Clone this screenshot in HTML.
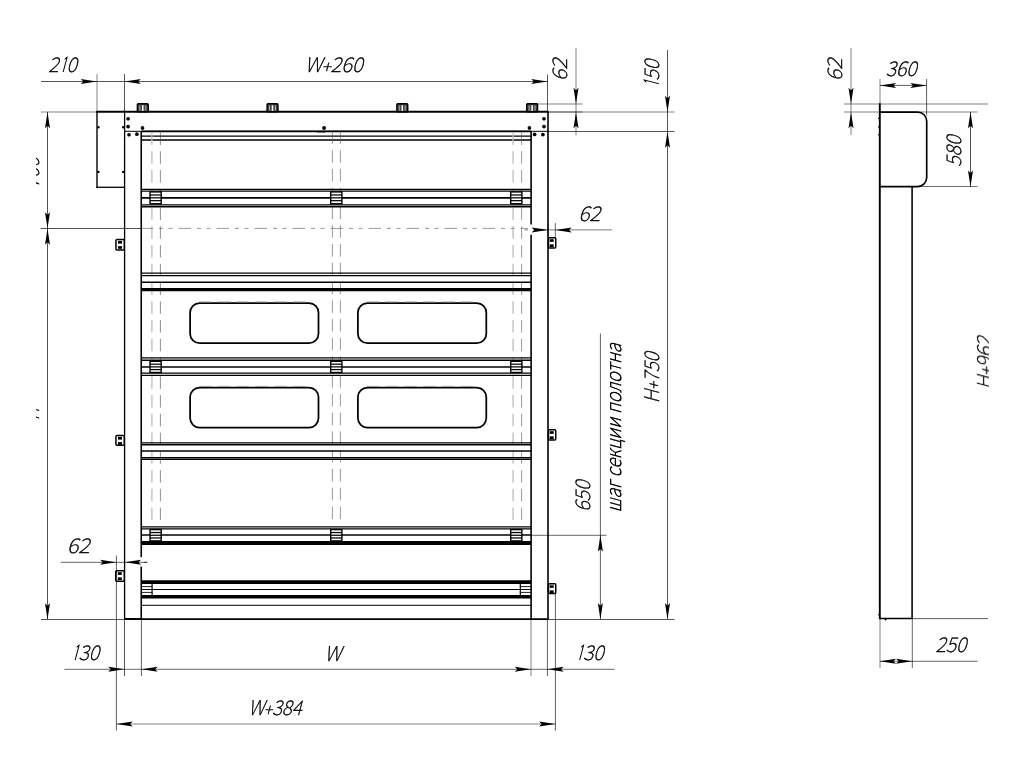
<!DOCTYPE html>
<html lang="ru"><head><meta charset="utf-8"><title>Чертёж секционных ворот</title>
<style>
html,body{margin:0;padding:0;background:#fff;}
body{width:1024px;height:768px;overflow:hidden;}
svg{display:block;}
svg text{font-family:"Noto Sans CJK SC","DejaVu Sans Light","Liberation Sans",sans-serif;font-weight:100;fill:#000;stroke:#000;}svg text .o{font-family:"IPAGothic","Noto Sans CJK JP",sans-serif;font-weight:400;stroke-width:0;font-size:22.1px;}
</style></head>
<body>
<svg width="1024" height="768" viewBox="0 0 1024 768">
<defs>
<clipPath id="cl1"><rect x="36" y="100" width="12" height="400"/></clipPath>
<clipPath id="cl2"><rect x="960" y="300" width="29" height="120"/></clipPath>
</defs>
<rect width="1024" height="768" fill="#fff"/>
<g id="drawing" opacity="0.999">
<line x1="96.3" y1="111.80000000000001" x2="548.7" y2="111.80000000000001" stroke="#000" stroke-width="2.0"/>
<line x1="97.0" y1="111.9" x2="97.0" y2="187.9" stroke="#000" stroke-width="1.4"/>
<line x1="96.3" y1="187.3" x2="124.6" y2="187.3" stroke="#000" stroke-width="1.3"/>
<line x1="124.6" y1="111.9" x2="124.6" y2="619.2" stroke="#000" stroke-width="1.3"/>
<line x1="548.0" y1="111.9" x2="548.0" y2="619.2" stroke="#000" stroke-width="1.6"/>
<line x1="141.25" y1="131" x2="141.25" y2="557.3" stroke="#000" stroke-width="1.6"/>
<line x1="141.25" y1="566.4" x2="141.25" y2="619.2" stroke="#000" stroke-width="1.6"/>
<line x1="531.1" y1="131" x2="531.1" y2="224.4" stroke="#000" stroke-width="1.6"/>
<line x1="531.1" y1="234.6" x2="531.1" y2="619.2" stroke="#000" stroke-width="1.6"/>
<line x1="124.0" y1="619.2" x2="548.8" y2="619.2" stroke="#000" stroke-width="1.7"/>
<line x1="124.0" y1="619.0" x2="141.5" y2="619.0" stroke="#000" stroke-width="2.0"/>
<line x1="124.6" y1="131.3" x2="548.0" y2="131.3" stroke="#000" stroke-width="1.0"/>
<line x1="141.25" y1="131.4" x2="531.1" y2="131.4" stroke="#000" stroke-width="1.6"/>
<line x1="141.25" y1="136.1" x2="531.1" y2="136.1" stroke="#000" stroke-width="1.25"/>
<line x1="141.25" y1="140.0" x2="531.1" y2="140.0" stroke="#000" stroke-width="1.4"/>
<rect x="137.4" y="103.7" width="10.8" height="8" rx="0.8" fill="#4a4a4a" stroke="#000" stroke-width="1.5"/>
<line x1="142.8" y1="105.3" x2="142.8" y2="110.9" stroke="#fff" stroke-width="1.5"/>
<line x1="139.8" y1="105.6" x2="139.8" y2="110.6" stroke="#bbb" stroke-width="0.8"/>
<line x1="145.8" y1="105.6" x2="145.8" y2="110.6" stroke="#bbb" stroke-width="0.8"/>
<rect x="267.1" y="103.7" width="10.8" height="8" rx="0.8" fill="#4a4a4a" stroke="#000" stroke-width="1.5"/>
<line x1="272.5" y1="105.3" x2="272.5" y2="110.9" stroke="#fff" stroke-width="1.5"/>
<line x1="269.5" y1="105.6" x2="269.5" y2="110.6" stroke="#bbb" stroke-width="0.8"/>
<line x1="275.5" y1="105.6" x2="275.5" y2="110.6" stroke="#bbb" stroke-width="0.8"/>
<rect x="396.9" y="103.7" width="10.8" height="8" rx="0.8" fill="#4a4a4a" stroke="#000" stroke-width="1.5"/>
<line x1="402.29999999999995" y1="105.3" x2="402.29999999999995" y2="110.9" stroke="#fff" stroke-width="1.5"/>
<line x1="399.29999999999995" y1="105.6" x2="399.29999999999995" y2="110.6" stroke="#bbb" stroke-width="0.8"/>
<line x1="405.29999999999995" y1="105.6" x2="405.29999999999995" y2="110.6" stroke="#bbb" stroke-width="0.8"/>
<rect x="526.7" y="103.7" width="10.8" height="8" rx="0.8" fill="#4a4a4a" stroke="#000" stroke-width="1.5"/>
<line x1="532.1" y1="105.3" x2="532.1" y2="110.9" stroke="#fff" stroke-width="1.5"/>
<line x1="529.1" y1="105.6" x2="529.1" y2="110.6" stroke="#bbb" stroke-width="0.8"/>
<line x1="535.1" y1="105.6" x2="535.1" y2="110.6" stroke="#bbb" stroke-width="0.8"/>
<circle cx="128.1" cy="118.75" r="1.85" fill="#000"/>
<circle cx="128.1" cy="126.6" r="1.85" fill="#000"/>
<circle cx="142.5" cy="127.9" r="1.85" fill="#000"/>
<circle cx="129" cy="134.75" r="1.85" fill="#000"/>
<circle cx="136.9" cy="134.2" r="1.85" fill="#000"/>
<circle cx="544.0" cy="118.75" r="1.85" fill="#000"/>
<circle cx="544.0" cy="126.6" r="1.85" fill="#000"/>
<circle cx="529.4" cy="127.9" r="1.85" fill="#000"/>
<circle cx="534.6" cy="134.4" r="1.85" fill="#000"/>
<circle cx="542.9" cy="134.6" r="1.85" fill="#000"/>
<circle cx="324.1" cy="128" r="1.9" fill="#000"/>
<line x1="317" y1="131.8" x2="325.5" y2="131.8" stroke="#000" stroke-width="1.2"/>
<circle cx="98.4" cy="127.25" r="1.2" fill="#000"/>
<circle cx="123.2" cy="127.25" r="1.2" fill="#000"/>
<circle cx="98.4" cy="171.9" r="1.2" fill="#000"/>
<circle cx="123.2" cy="171.9" r="1.2" fill="#000"/>
<circle cx="97.4" cy="187.3" r="0.9" fill="#000"/>
<circle cx="124.2" cy="187.3" r="0.9" fill="#000"/>
<circle cx="97.2" cy="112" r="0.9" fill="#000"/>
<circle cx="124.4" cy="111.5" r="0.9" fill="#000"/>
<line x1="151.9" y1="132.6" x2="151.9" y2="523" stroke="#bdbdbd" stroke-width="1.3" stroke-dasharray="12.5 6.25"/>
<line x1="160.4" y1="132.6" x2="160.4" y2="523" stroke="#444" stroke-width="0.6" stroke-dasharray="12.5 6.25"/>
<line x1="332.4" y1="131.5" x2="332.4" y2="523" stroke="#555" stroke-width="0.6" stroke-dasharray="12.5 6.25"/>
<line x1="340.4" y1="131.5" x2="340.4" y2="523" stroke="#555" stroke-width="0.6" stroke-dasharray="12.5 6.25"/>
<line x1="513.1" y1="132.6" x2="513.1" y2="523" stroke="#bdbdbd" stroke-width="1.3" stroke-dasharray="12.5 6.25"/>
<line x1="521.6" y1="132.6" x2="521.6" y2="523" stroke="#555" stroke-width="0.6" stroke-dasharray="12.5 6.25"/>
<line x1="140.5" y1="228.4" x2="531" y2="228.4" stroke="#555" stroke-width="0.6" stroke-dasharray="12.5 6 4 5.5 4 6"/>
<line x1="141.25" y1="189.4" x2="531.1" y2="189.4" stroke="#000" stroke-width="1.4"/>
<line x1="141.25" y1="191.1" x2="531.1" y2="191.1" stroke="#000" stroke-width="1.4"/>
<line x1="141.25" y1="197.9" x2="531.1" y2="197.9" stroke="#000" stroke-width="1.6"/>
<line x1="141.25" y1="204.9" x2="531.1" y2="204.9" stroke="#000" stroke-width="1.4"/>
<line x1="141.25" y1="206.7" x2="531.1" y2="206.7" stroke="#000" stroke-width="1.4"/>
<rect x="150.0" y="191.9" width="11.2" height="11.85" fill="#fff" stroke="#000" stroke-width="1.4"/>
<line x1="150.0" y1="194.981" x2="161.2" y2="194.981" stroke="#000" stroke-width="1.25"/>
<line x1="150.0" y1="197.825" x2="161.2" y2="197.825" stroke="#000" stroke-width="1.25"/>
<line x1="150.0" y1="200.669" x2="161.2" y2="200.669" stroke="#000" stroke-width="1.25"/>
<rect x="330.7" y="191.9" width="11.2" height="11.85" fill="#fff" stroke="#000" stroke-width="1.4"/>
<line x1="330.7" y1="194.981" x2="341.9" y2="194.981" stroke="#000" stroke-width="1.25"/>
<line x1="330.7" y1="197.825" x2="341.9" y2="197.825" stroke="#000" stroke-width="1.25"/>
<line x1="330.7" y1="200.669" x2="341.9" y2="200.669" stroke="#000" stroke-width="1.25"/>
<rect x="510.7" y="191.9" width="11.2" height="11.85" fill="#fff" stroke="#000" stroke-width="1.4"/>
<line x1="510.7" y1="194.981" x2="521.9" y2="194.981" stroke="#000" stroke-width="1.25"/>
<line x1="510.7" y1="197.825" x2="521.9" y2="197.825" stroke="#000" stroke-width="1.25"/>
<line x1="510.7" y1="200.669" x2="521.9" y2="200.669" stroke="#000" stroke-width="1.25"/>
<line x1="141.25" y1="273.1" x2="531.1" y2="273.1" stroke="#000" stroke-width="1.4"/>
<line x1="141.25" y1="275.6" x2="531.1" y2="275.6" stroke="#000" stroke-width="1.4"/>
<line x1="141.25" y1="282.25" x2="531.1" y2="282.25" stroke="#000" stroke-width="1.35"/>
<line x1="141.25" y1="289.7" x2="531.1" y2="289.7" stroke="#000" stroke-width="3.2"/>
<line x1="141.25" y1="357.9" x2="531.1" y2="357.9" stroke="#000" stroke-width="1.4"/>
<line x1="141.25" y1="360.25" x2="531.1" y2="360.25" stroke="#000" stroke-width="1.4"/>
<line x1="141.25" y1="366.9" x2="531.1" y2="366.9" stroke="#000" stroke-width="1.55"/>
<line x1="141.25" y1="373.1" x2="531.1" y2="373.1" stroke="#000" stroke-width="1.4"/>
<line x1="141.25" y1="375.4" x2="531.1" y2="375.4" stroke="#000" stroke-width="1.4"/>
<rect x="150.0" y="361.25" width="11.2" height="11.25" fill="#fff" stroke="#000" stroke-width="1.4"/>
<line x1="150.0" y1="364.175" x2="161.2" y2="364.175" stroke="#000" stroke-width="1.25"/>
<line x1="150.0" y1="366.875" x2="161.2" y2="366.875" stroke="#000" stroke-width="1.25"/>
<line x1="150.0" y1="369.575" x2="161.2" y2="369.575" stroke="#000" stroke-width="1.25"/>
<rect x="330.7" y="361.25" width="11.2" height="11.25" fill="#fff" stroke="#000" stroke-width="1.4"/>
<line x1="330.7" y1="364.175" x2="341.9" y2="364.175" stroke="#000" stroke-width="1.25"/>
<line x1="330.7" y1="366.875" x2="341.9" y2="366.875" stroke="#000" stroke-width="1.25"/>
<line x1="330.7" y1="369.575" x2="341.9" y2="369.575" stroke="#000" stroke-width="1.25"/>
<rect x="510.7" y="361.25" width="11.2" height="11.25" fill="#fff" stroke="#000" stroke-width="1.4"/>
<line x1="510.7" y1="364.175" x2="521.9" y2="364.175" stroke="#000" stroke-width="1.25"/>
<line x1="510.7" y1="366.875" x2="521.9" y2="366.875" stroke="#000" stroke-width="1.25"/>
<line x1="510.7" y1="369.575" x2="521.9" y2="369.575" stroke="#000" stroke-width="1.25"/>
<line x1="141.25" y1="442.9" x2="531.1" y2="442.9" stroke="#000" stroke-width="1.3"/>
<line x1="141.25" y1="444.75" x2="531.1" y2="444.75" stroke="#000" stroke-width="1.3"/>
<line x1="141.25" y1="451.0" x2="531.1" y2="451.0" stroke="#000" stroke-width="1.45"/>
<line x1="141.25" y1="457.75" x2="531.1" y2="457.75" stroke="#000" stroke-width="1.3"/>
<line x1="141.25" y1="459.4" x2="531.1" y2="459.4" stroke="#000" stroke-width="1.3"/>
<line x1="141.25" y1="526.8" x2="531.1" y2="526.8" stroke="#000" stroke-width="1.3"/>
<line x1="141.25" y1="528.9" x2="531.1" y2="528.9" stroke="#000" stroke-width="1.3"/>
<line x1="141.25" y1="535.0" x2="531.1" y2="535.0" stroke="#000" stroke-width="1.4"/>
<line x1="141.25" y1="542.9" x2="531.1" y2="542.9" stroke="#000" stroke-width="4.0"/>
<rect x="150.0" y="529.6" width="11.2" height="11.30" fill="#fff" stroke="#000" stroke-width="1.4"/>
<line x1="150.0" y1="532.538" x2="161.2" y2="532.538" stroke="#000" stroke-width="1.25"/>
<line x1="150.0" y1="535.25" x2="161.2" y2="535.25" stroke="#000" stroke-width="1.25"/>
<line x1="150.0" y1="537.962" x2="161.2" y2="537.962" stroke="#000" stroke-width="1.25"/>
<rect x="330.7" y="529.6" width="11.2" height="11.30" fill="#fff" stroke="#000" stroke-width="1.4"/>
<line x1="330.7" y1="532.538" x2="341.9" y2="532.538" stroke="#000" stroke-width="1.25"/>
<line x1="330.7" y1="535.25" x2="341.9" y2="535.25" stroke="#000" stroke-width="1.25"/>
<line x1="330.7" y1="537.962" x2="341.9" y2="537.962" stroke="#000" stroke-width="1.25"/>
<rect x="510.7" y="529.6" width="11.2" height="11.30" fill="#fff" stroke="#000" stroke-width="1.4"/>
<line x1="510.7" y1="532.538" x2="521.9" y2="532.538" stroke="#000" stroke-width="1.25"/>
<line x1="510.7" y1="535.25" x2="521.9" y2="535.25" stroke="#000" stroke-width="1.25"/>
<line x1="510.7" y1="537.962" x2="521.9" y2="537.962" stroke="#000" stroke-width="1.25"/>
<line x1="141.25" y1="582.1" x2="531.1" y2="582.1" stroke="#000" stroke-width="3.8"/>
<line x1="141.25" y1="589.5" x2="531.1" y2="589.5" stroke="#000" stroke-width="1.0"/>
<line x1="141.25" y1="596.8" x2="531.1" y2="596.8" stroke="#000" stroke-width="3.6"/>
<line x1="141.25" y1="605.3" x2="531.1" y2="605.3" stroke="#000" stroke-width="1.0"/>
<line x1="152.1" y1="584" x2="152.1" y2="595" stroke="#000" stroke-width="1.2"/>
<line x1="141.25" y1="586.6" x2="152.1" y2="586.6" stroke="#000" stroke-width="0.9"/>
<line x1="141.25" y1="589.5" x2="152.1" y2="589.5" stroke="#000" stroke-width="0.9"/>
<line x1="141.25" y1="592.4" x2="152.1" y2="592.4" stroke="#000" stroke-width="0.9"/>
<line x1="520.3" y1="584" x2="520.3" y2="595" stroke="#000" stroke-width="1.2"/>
<line x1="520.3" y1="586.6" x2="531.1" y2="586.6" stroke="#000" stroke-width="0.9"/>
<line x1="520.3" y1="589.5" x2="531.1" y2="589.5" stroke="#000" stroke-width="0.9"/>
<line x1="520.3" y1="592.4" x2="531.1" y2="592.4" stroke="#000" stroke-width="0.9"/>
<rect x="190.1" y="303.1" width="128.4" height="40.1" rx="9.5" ry="9.5" fill="none" stroke="#000" stroke-width="1.75"/>
<rect x="357.9" y="303.1" width="128.4" height="40.1" rx="9.5" ry="9.5" fill="none" stroke="#000" stroke-width="1.75"/>
<rect x="190.1" y="387.5" width="128.4" height="40.1" rx="9.5" ry="9.5" fill="none" stroke="#000" stroke-width="1.75"/>
<rect x="357.9" y="387.5" width="128.4" height="40.1" rx="9.5" ry="9.5" fill="none" stroke="#000" stroke-width="1.75"/>
<line x1="199.1" y1="301.95000000000005" x2="309.5" y2="301.95000000000005" stroke="#909090" stroke-width="0.8" stroke-dasharray="12.5 6.25"/>
<line x1="366.9" y1="301.95000000000005" x2="477.29999999999995" y2="301.95000000000005" stroke="#909090" stroke-width="0.8" stroke-dasharray="12.5 6.25"/>
<line x1="199.1" y1="386.35" x2="309.5" y2="386.35" stroke="#909090" stroke-width="0.8" stroke-dasharray="12.5 6.25"/>
<line x1="366.9" y1="386.35" x2="477.29999999999995" y2="386.35" stroke="#909090" stroke-width="0.8" stroke-dasharray="12.5 6.25"/>
<rect x="115.95" y="239.45" width="8.30" height="10.55" rx="1" fill="#fff" stroke="#000" stroke-width="1.5"/>
<rect x="118.00" y="240.90" width="4.0" height="2.7" fill="#000"/>
<rect x="118.00" y="246.10" width="4.0" height="2.7" fill="#000"/>
<rect x="115.95" y="435.45" width="8.30" height="9.90" rx="1" fill="#fff" stroke="#000" stroke-width="1.5"/>
<rect x="118.00" y="436.90" width="4.0" height="2.7" fill="#000"/>
<rect x="118.00" y="442.10" width="4.0" height="2.7" fill="#000"/>
<rect x="115.75" y="570.75" width="8.50" height="10.40" rx="1" fill="#fff" stroke="#000" stroke-width="1.5"/>
<rect x="117.80" y="572.20" width="4.0" height="2.7" fill="#000"/>
<rect x="117.80" y="577.40" width="4.0" height="2.7" fill="#000"/>
<rect x="548.45" y="237.75" width="7.30" height="10.25" rx="1" fill="#fff" stroke="#000" stroke-width="1.5"/>
<rect x="549.70" y="239.20" width="4.0" height="2.7" fill="#000"/>
<rect x="549.70" y="244.40" width="4.0" height="2.7" fill="#000"/>
<rect x="548.45" y="429.75" width="7.30" height="10.25" rx="1" fill="#fff" stroke="#000" stroke-width="1.5"/>
<rect x="549.70" y="431.20" width="4.0" height="2.7" fill="#000"/>
<rect x="549.70" y="436.40" width="4.0" height="2.7" fill="#000"/>
<rect x="548.45" y="583.75" width="7.30" height="9.80" rx="1" fill="#fff" stroke="#000" stroke-width="1.5"/>
<rect x="549.70" y="585.20" width="4.0" height="2.7" fill="#000"/>
<rect x="549.70" y="590.40" width="4.0" height="2.7" fill="#000"/>
<line x1="879.8" y1="103.2" x2="879.8" y2="619.0" stroke="#000" stroke-width="1.9"/>
<path d="M879.8 112.1 H917.7 A9 9 0 0 1 926.7 121.1 V177.6 A9 9 0 0 1 917.7 186.6 H879.8" fill="none" stroke="#000" stroke-width="1.7"/>
<line x1="912.1" y1="186.6" x2="912.1" y2="619.0" stroke="#000" stroke-width="1.55"/>
<line x1="879" y1="618.5" x2="912.8" y2="618.5" stroke="#000" stroke-width="1.7"/>
<circle cx="879.0" cy="614.8" r="0.8" fill="#000"/>
<circle cx="885.6" cy="619.6" r="0.9" fill="#000"/>
<circle cx="878.8" cy="118.2" r="0.8" fill="#000"/>
<circle cx="878.8" cy="127" r="0.8" fill="#000"/>
<circle cx="878.8" cy="134.7" r="0.8" fill="#000"/>
<line x1="41" y1="81.5" x2="547.5" y2="81.5" stroke="#000" stroke-width="0.68"/>
<line x1="97.0" y1="74" x2="97.0" y2="111" stroke="#000" stroke-width="0.5"/>
<line x1="124.5" y1="74" x2="124.5" y2="111" stroke="#000" stroke-width="0.68"/>
<line x1="547.5" y1="74.7" x2="547.5" y2="111" stroke="#000" stroke-width="0.68"/>
<polygon points="97.00,81.50 80.70,79.00 83.30,81.50 80.70,84.00" fill="#000"/>
<polygon points="124.50,81.50 140.80,79.00 138.20,81.50 140.80,84.00" fill="#000"/>
<polygon points="547.50,81.50 531.20,79.00 533.80,81.50 531.20,84.00" fill="#000"/>
<text transform="translate(48.25,72.38) skewX(-15) scale(0.98,1)" font-size="20.2" stroke-width="0.45">2<tspan class="o" dx="1.30" dy="1.10" textLength="6.5" lengthAdjust="spacingAndGlyphs">1</tspan><tspan dx="0.30" dy="-1.10">0</tspan></text>
<text transform="translate(304.70,72.00) skewX(-15) scale(1.02,1)" font-size="20.2" stroke-width="0.45">W<tspan font-size="17" dx="-0.30" dy="1.1">+</tspan><tspan dx="-0.30" dy="-1.10">260</tspan></text>
<line x1="576.0" y1="48" x2="576.0" y2="135" stroke="#000" stroke-width="0.5"/>
<line x1="537" y1="104.0" x2="582.5" y2="104.0" stroke="#000" stroke-width="0.5"/>
<line x1="548" y1="112.0" x2="674.5" y2="112.0" stroke="#000" stroke-width="0.5"/>
<line x1="548" y1="112.0" x2="582.5" y2="112.0" stroke="#000" stroke-width="0.5"/>
<line x1="547" y1="131.5" x2="674.5" y2="131.5" stroke="#000" stroke-width="0.68"/>
<polygon points="576.00,104.00 573.50,87.70 576.00,90.30 578.50,87.70" fill="#000"/>
<polygon points="576.00,112.00 573.50,128.30 576.00,125.70 578.50,128.30" fill="#000"/>
<text transform="translate(567.12,80.88) rotate(-90) skewX(-15) scale(1.06,1)" font-size="20.2" stroke-width="0.45">62</text>
<line x1="667.5" y1="50" x2="667.5" y2="619" stroke="#000" stroke-width="0.68"/>
<polygon points="667.50,112.00 665.00,95.70 667.50,98.30 670.00,95.70" fill="#000"/>
<polygon points="667.50,131.50 665.00,147.80 667.50,145.20 670.00,147.80" fill="#000"/>
<polygon points="667.50,619.40 665.00,603.10 667.50,605.70 670.00,603.10" fill="#000"/>
<text transform="translate(659.12,87.25) rotate(-90) skewX(-15) scale(0.98,1)" font-size="20.2" stroke-width="0.45"><tspan class="o" dx="0.00" dy="1.10" textLength="6.5" lengthAdjust="spacingAndGlyphs">1</tspan><tspan dx="0.30" dy="-1.10">50</tspan></text>
<text transform="translate(658.95,403.25) rotate(-90) skewX(-15) scale(0.94,1)" font-size="20.2" stroke-width="0.45">H<tspan font-size="17" dx="-0.30" dy="1.1">+</tspan><tspan dx="-0.30" dy="-1.10">750</tspan></text>
<line x1="524.5" y1="229.9" x2="612" y2="229.9" stroke="#000" stroke-width="0.536"/>
<line x1="555.3" y1="223" x2="555.3" y2="237.5" stroke="#000" stroke-width="0.608"/>
<line x1="548" y1="223" x2="548" y2="237" stroke="#000" stroke-width="0.5"/>
<rect x="528" y="225" width="6" height="9.4" fill="#fff"/>
<polygon points="547.90,229.90 531.60,227.40 534.20,229.90 531.60,232.40" fill="#000"/>
<polygon points="555.30,229.90 571.60,227.40 569.00,229.90 571.60,232.40" fill="#000"/>
<text transform="translate(578.38,221.25) skewX(-15) scale(1.04,1)" font-size="20.2" stroke-width="0.45">62</text>
<line x1="47.5" y1="112" x2="47.5" y2="619.4" stroke="#000" stroke-width="0.68"/>
<line x1="41" y1="112.0" x2="97" y2="112.0" stroke="#000" stroke-width="0.5"/>
<line x1="40.5" y1="228.5" x2="141" y2="228.5" stroke="#000" stroke-width="0.68"/>
<line x1="41" y1="619.5" x2="124.5" y2="619.5" stroke="#000" stroke-width="0.68"/>
<polygon points="47.50,112.00 45.00,128.30 47.50,125.70 50.00,128.30" fill="#000"/>
<polygon points="47.50,228.50 45.00,212.20 47.50,214.80 50.00,212.20" fill="#000"/>
<polygon points="47.50,228.50 45.00,244.80 47.50,242.20 50.00,244.80" fill="#000"/>
<polygon points="47.50,619.50 45.00,603.20 47.50,605.80 50.00,603.20" fill="#000"/>
<g clip-path="url(#cl1)"><text transform="translate(38.60,188.50) rotate(-90) skewX(-15) scale(1.0,1)" font-size="20.2" stroke-width="0.45">700</text></g>
<g clip-path="url(#cl1)"><text transform="translate(38.60,420.00) rotate(-90) skewX(-15) scale(0.84,1)" font-size="20.2" stroke-width="0.45">H</text></g>
<line x1="60.6" y1="562.3" x2="147.3" y2="562.3" stroke="#000" stroke-width="0.608"/>
<line x1="116.4" y1="555.5" x2="116.4" y2="730.5" stroke="#000" stroke-width="0.644"/>
<rect x="138.5" y="557.5" width="5.5" height="8.8" fill="#fff"/>
<line x1="138" y1="562.3" x2="147.3" y2="562.3" stroke="#000" stroke-width="0.608"/>
<polygon points="116.40,562.30 100.10,559.80 102.70,562.30 100.10,564.80" fill="#000"/>
<polygon points="124.80,562.30 141.10,559.80 138.50,562.30 141.10,564.80" fill="#000"/>
<text transform="translate(67.00,553.25) skewX(-15) scale(1.08,1)" font-size="20.2" stroke-width="0.45">62</text>
<line x1="124.5" y1="619.5" x2="124.5" y2="676" stroke="#000" stroke-width="0.68"/>
<line x1="141.4" y1="619.5" x2="141.4" y2="676" stroke="#000" stroke-width="0.644"/>
<line x1="531.0" y1="619.5" x2="531.0" y2="676" stroke="#000" stroke-width="0.5"/>
<line x1="547.4" y1="619.5" x2="547.4" y2="676" stroke="#000" stroke-width="0.644"/>
<line x1="555.4" y1="594" x2="555.4" y2="730.5" stroke="#000" stroke-width="0.644"/>
<line x1="64.5" y1="669.3" x2="614.5" y2="669.3" stroke="#000" stroke-width="0.608"/>
<polygon points="124.50,669.30 108.20,666.80 110.80,669.30 108.20,671.80" fill="#000"/>
<polygon points="141.40,669.30 157.70,666.80 155.10,669.30 157.70,671.80" fill="#000"/>
<polygon points="531.00,669.30 514.70,666.80 517.30,669.30 514.70,671.80" fill="#000"/>
<polygon points="547.40,669.30 563.70,666.80 561.10,669.30 563.70,671.80" fill="#000"/>
<text transform="translate(71.80,660.25) skewX(-15) scale(0.98,1)" font-size="20.2" stroke-width="0.45"><tspan class="o" dx="0.00" dy="1.10" textLength="6.5" lengthAdjust="spacingAndGlyphs">1</tspan><tspan dx="0.30" dy="-1.10">30</tspan></text>
<text transform="translate(324.62,660.75) skewX(-15) scale(0.98,1)" font-size="20.2" stroke-width="0.45">W</text>
<text transform="translate(576.25,660.25) skewX(-15) scale(0.98,1)" font-size="20.2" stroke-width="0.45"><tspan class="o" dx="0.00" dy="1.10" textLength="6.5" lengthAdjust="spacingAndGlyphs">1</tspan><tspan dx="0.30" dy="-1.10">30</tspan></text>
<line x1="116.4" y1="724.0" x2="555.4" y2="724.0" stroke="#000" stroke-width="0.5"/>
<polygon points="116.40,724.00 132.70,721.50 130.10,724.00 132.70,726.50" fill="#000"/>
<polygon points="555.40,724.00 539.10,721.50 541.70,724.00 539.10,726.50" fill="#000"/>
<text transform="translate(248.20,714.90) skewX(-15) scale(0.94,1)" font-size="20.2" stroke-width="0.45">W<tspan font-size="17" dx="-0.30" dy="1.1">+</tspan><tspan dx="-0.30" dy="-1.10">384</tspan></text>
<line x1="600.4" y1="333.5" x2="600.4" y2="619.2" stroke="#000" stroke-width="0.644"/>
<line x1="531" y1="535.3" x2="606.5" y2="535.3" stroke="#000" stroke-width="0.608"/>
<line x1="548" y1="619.5" x2="674.5" y2="619.5" stroke="#000" stroke-width="0.68"/>
<polygon points="600.40,535.30 597.90,551.60 600.40,549.00 602.90,551.60" fill="#000"/>
<polygon points="600.40,619.40 597.90,603.10 600.40,605.70 602.90,603.10" fill="#000"/>
<text transform="translate(590.38,511.70) rotate(-90) skewX(-15) scale(0.98,1)" font-size="20.2" stroke-width="0.45">650</text>
<text transform="translate(621.10,512.55) rotate(-90) skewX(-15) scale(0.89,1)" font-size="20.2" stroke-width="0.6">шаг секции полотна</text>
<line x1="851.0" y1="48" x2="851.0" y2="135" stroke="#000" stroke-width="0.5"/>
<line x1="844" y1="104.0" x2="988" y2="104.0" stroke="#000" stroke-width="0.5"/>
<line x1="844" y1="112.0" x2="977.5" y2="112.0" stroke="#000" stroke-width="0.5"/>
<polygon points="851.00,104.00 848.50,87.70 851.00,90.30 853.50,87.70" fill="#000"/>
<polygon points="851.00,112.00 848.50,128.30 851.00,125.70 853.50,128.30" fill="#000"/>
<text transform="translate(841.50,81.00) rotate(-90) skewX(-15) scale(1.06,1)" font-size="20.2" stroke-width="0.45">62</text>
<line x1="879.8" y1="85.4" x2="926.7" y2="85.4" stroke="#000" stroke-width="0.644"/>
<line x1="880.0" y1="79" x2="880.0" y2="103.5" stroke="#000" stroke-width="0.5"/>
<line x1="926.6" y1="79" x2="926.6" y2="115.5" stroke="#000" stroke-width="0.644"/>
<polygon points="879.80,85.40 896.10,82.90 893.50,85.40 896.10,87.90" fill="#000"/>
<polygon points="926.70,85.40 910.40,82.90 913.00,85.40 910.40,87.90" fill="#000"/>
<text transform="translate(885.70,75.88) skewX(-15) scale(0.98,1)" font-size="20.2" stroke-width="0.45">360</text>
<line x1="970.5" y1="112" x2="970.5" y2="186.6" stroke="#000" stroke-width="0.68"/>
<line x1="921.5" y1="186.6" x2="977.5" y2="186.6" stroke="#000" stroke-width="0.644"/>
<polygon points="970.50,112.00 968.00,128.30 970.50,125.70 973.00,128.30" fill="#000"/>
<polygon points="970.50,186.70 968.00,170.40 970.50,173.00 973.00,170.40" fill="#000"/>
<text transform="translate(960.90,166.70) rotate(-90) skewX(-15) scale(0.98,1)" font-size="20.2" stroke-width="0.45">580</text>
<line x1="912" y1="618.6" x2="988" y2="618.6" stroke="#000" stroke-width="0.644"/>
<line x1="880.0" y1="619" x2="880.0" y2="668" stroke="#000" stroke-width="0.5"/>
<line x1="912.3" y1="619" x2="912.3" y2="668" stroke="#000" stroke-width="0.608"/>
<line x1="879.8" y1="661.3" x2="977.5" y2="661.3" stroke="#000" stroke-width="0.608"/>
<polygon points="879.80,661.30 896.10,658.80 893.50,661.30 896.10,663.80" fill="#000"/>
<polygon points="912.30,661.30 896.00,658.80 898.60,661.30 896.00,663.80" fill="#000"/>
<text transform="translate(935.38,651.88) skewX(-15) scale(0.98,1)" font-size="20.2" stroke-width="0.45">250</text>
<g clip-path="url(#cl2)"><text transform="translate(991.50,389.50) rotate(-90) skewX(-15) scale(0.98,1)" font-size="20.2" stroke-width="0.45">H<tspan font-size="17" dx="-0.30" dy="1.1">+</tspan><tspan dx="-0.30" dy="-1.10">962</tspan></text></g>
</g>
</svg>
</body></html>
